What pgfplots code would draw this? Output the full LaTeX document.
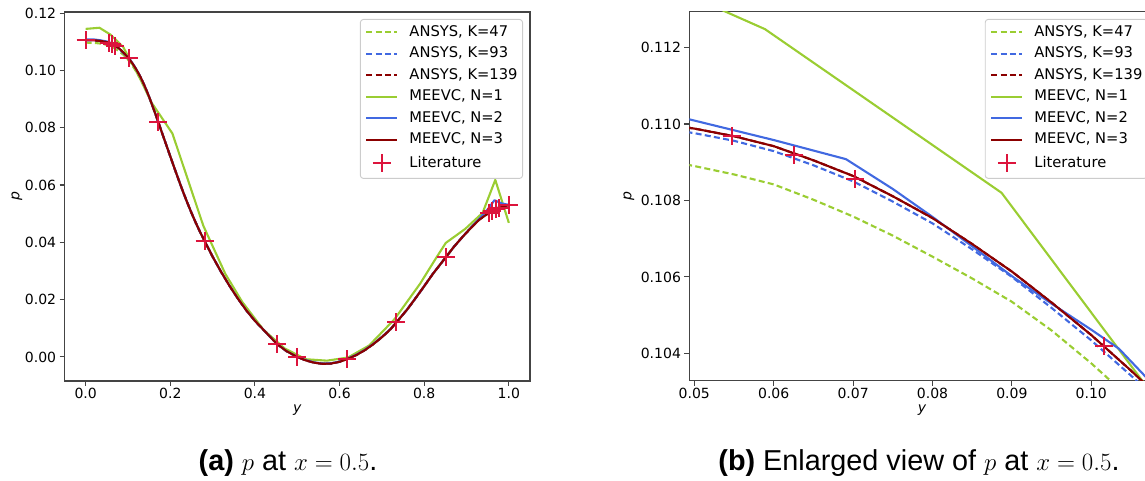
\documentclass[border=0pt]{standalone}
\usepackage[no-math]{fontspec}
\setmainfont{DejaVu Sans}
\newfontfamily\capfont{Liberation Sans}
\usepackage{pgfplots}
\usepackage{pgfplotstable}
\pgfplotsset{compat=1.18}
\definecolor{cgreen}{HTML}{9ACD32}
\definecolor{cblue}{HTML}{4169E1}
\definecolor{cred}{HTML}{8B0000}
\definecolor{ccrim}{HTML}{DC143C}
\definecolor{spine}{HTML}{444444}

% MEEVC N=3 (and ANSYS K=139)
\pgfplotstableread{
y p
0.000 0.11060
0.010 0.11058
0.020 0.11052
0.030 0.11040
0.040 0.11018
0.050 0.10988
0.055 0.10968
0.060 0.10942
0.065 0.10905
0.070 0.10864
0.075 0.10811
0.080 0.10754
0.085 0.10686
0.090 0.10614
0.095 0.10533
0.100 0.10448
0.105 0.10355
0.110 0.10258
0.120 0.10028
0.130 0.09758
0.140 0.09438
0.150 0.09078
0.160 0.08678
0.1719 0.0819
0.180 0.0784
0.190 0.0742
0.200 0.0700
0.210 0.0658
0.220 0.0617
0.230 0.0577
0.240 0.0539
0.250 0.0503
0.260 0.0469
0.270 0.0437
0.2813 0.0404
0.300 0.0350
0.320 0.0297
0.340 0.0248
0.360 0.0203
0.380 0.0162
0.400 0.0126
0.420 0.0095
0.440 0.0064
0.4531 0.0044
0.475 0.0020
0.500 0.0000
0.520 -0.0012
0.540 -0.0020
0.560 -0.0024
0.580 -0.0023
0.600 -0.0017
0.6172 -0.0008
0.640 0.0007
0.660 0.0024
0.680 0.0045
0.700 0.0069
0.720 0.0096
0.7344 0.0121
0.760 0.0166
0.780 0.0206
0.800 0.0247
0.820 0.0289
0.8516 0.0349
0.870 0.0384
0.890 0.0418
0.910 0.0450
0.930 0.0479
0.9531 0.0503
0.9609 0.0509
0.9688 0.0515
0.9766 0.0520
0.990 0.0527
1.000 0.0530
}\mainT

% ANSYS K=93
\pgfplotstableread{
y p
0.000 0.11052
0.010 0.11050
0.020 0.11043
0.030 0.11030
0.040 0.11007
0.050 0.10976
0.055 0.10956
0.060 0.10929
0.065 0.10892
0.070 0.10850
0.075 0.10797
0.080 0.10740
0.085 0.10672
0.090 0.10600
0.095 0.10519
0.100 0.10434
0.105 0.10342
0.110 0.10246
0.120 0.10020
0.130 0.09752
0.140 0.09434
0.150 0.09075
0.160 0.08676
0.1719 0.0819
0.180 0.0784
0.190 0.0742
0.200 0.0700
0.210 0.0658
0.220 0.0617
0.230 0.0577
0.240 0.0539
0.250 0.0503
0.260 0.0469
0.270 0.0437
0.2813 0.0404
0.300 0.0350
0.320 0.0297
0.340 0.0248
0.360 0.0203
0.380 0.0162
0.400 0.0126
0.420 0.0095
0.440 0.0064
0.4531 0.0044
0.475 0.0020
0.500 0.0000
0.520 -0.0012
0.540 -0.0020
0.560 -0.0024
0.580 -0.0023
0.600 -0.0017
0.6172 -0.0008
0.640 0.0007
0.660 0.0024
0.680 0.0045
0.700 0.0069
0.720 0.0096
0.7344 0.0121
0.760 0.0166
0.780 0.0206
0.800 0.0247
0.820 0.0289
0.8516 0.0349
0.870 0.0384
0.890 0.0418
0.910 0.0450
0.930 0.0480
0.9531 0.0505
0.9609 0.0512
0.9688 0.0518
0.9766 0.0522
0.990 0.0527
1.000 0.0530
}\kninety

% ANSYS K=47
\pgfplotstableread{
y p
0.000 0.10970
0.020 0.10962
0.040 0.10930
0.050 0.10890
0.055 0.10868
0.060 0.10842
0.065 0.10802
0.070 0.10758
0.075 0.10708
0.080 0.10653
0.085 0.10596
0.090 0.10535
0.095 0.10460
0.100 0.10374
0.105 0.10280
0.110 0.10180
0.120 0.09950
0.130 0.09700
0.140 0.09400
0.150 0.09060
0.160 0.08670
0.1719 0.0819
0.180 0.0784
0.190 0.0742
0.200 0.0700
0.210 0.0658
0.220 0.0617
0.230 0.0577
0.240 0.0539
0.250 0.0503
0.260 0.0469
0.270 0.0437
0.2813 0.0404
0.300 0.0350
0.320 0.0297
0.340 0.0248
0.360 0.0203
0.380 0.0162
0.400 0.0126
0.420 0.0095
0.440 0.0064
0.4531 0.0044
0.475 0.0020
0.500 0.0000
0.520 -0.0011
0.540 -0.0019
0.560 -0.0023
0.580 -0.0022
0.600 -0.0016
0.6172 -0.0008
0.640 0.0007
0.660 0.0024
0.680 0.0045
0.700 0.0069
0.720 0.0096
0.7344 0.0121
0.760 0.0166
0.780 0.0206
0.800 0.0247
0.820 0.0289
0.8516 0.0349
0.870 0.0384
0.890 0.0418
0.910 0.0450
0.930 0.0480
0.9531 0.0505
0.9609 0.0512
0.9688 0.0518
0.9766 0.0522
0.990 0.0527
1.000 0.0530
}\kfortyseven

% MEEVC N=1
\pgfplotstableread{
y p
0.0000 0.1145
0.0326 0.1149
0.0589 0.11248
0.0887 0.1082
0.1280 0.0973
0.1560 0.0887
0.2050 0.0780
0.2780 0.0458
0.3300 0.0290
0.3700 0.0192
0.4200 0.0095
0.4700 0.0030
0.5200 -0.0008
0.5700 -0.0013
0.6200 -0.0002
0.6700 0.0040
0.7300 0.0132
0.7900 0.0255
0.8280 0.0345
0.8510 0.0398
0.8970 0.0447
0.9380 0.0503
0.9680 0.0618
1.0000 0.0468
}\nOne

% MEEVC N=2
\pgfplotstableread{
y p
0.000 0.11080
0.010 0.11082
0.020 0.11080
0.035 0.11052
0.0494 0.11012
0.060 0.10958
0.0691 0.10908
0.075 0.10830
0.080 0.10757
0.085 0.10680
0.090 0.10602
0.095 0.10530
0.100 0.10462
0.1035 0.10412
0.110 0.10270
0.120 0.10030
0.130 0.09758
0.140 0.09438
0.150 0.09078
0.160 0.08678
0.1719 0.0819
0.180 0.0784
0.190 0.0742
0.200 0.0700
0.210 0.0658
0.220 0.0617
0.230 0.0577
0.240 0.0539
0.250 0.0503
0.260 0.0469
0.270 0.0437
0.2813 0.0404
0.300 0.0350
0.320 0.0297
0.340 0.0248
0.360 0.0203
0.380 0.0162
0.400 0.0126
0.420 0.0095
0.440 0.0064
0.4531 0.0044
0.475 0.0020
0.500 0.0000
0.520 -0.0011
0.540 -0.0019
0.560 -0.0023
0.580 -0.0022
0.600 -0.0016
0.6172 -0.0007
0.640 0.0008
0.660 0.0025
0.680 0.0046
0.700 0.0070
0.720 0.0097
0.7344 0.0121
0.760 0.0166
0.780 0.0206
0.800 0.0247
0.820 0.0289
0.8516 0.0349
0.870 0.0384
0.890 0.0418
0.910 0.0451
0.930 0.0482
0.950 0.0515
0.966 0.0547
0.985 0.0535
1.000 0.0531
}\nTwo

% Literature (Botella & Peyret)
\pgfplotstableread{
y p
1.0000 0.052987
0.9766 0.052009
0.9688 0.051514
0.9609 0.050949
0.9531 0.050329
0.8516 0.034910
0.7344 0.012122
0.6172 -0.000827
0.5000 0.000000
0.4531 0.004434
0.2813 0.040377
0.1719 0.081925
0.1016 0.104187
0.0703 0.108566
0.0625 0.109200
0.0547 0.109689
0.0000 0.110591
}\litT

\pgfplotsset{
  myaxis/.style={
    scale only axis,
    anchor=south west,
    width=465.5pt, height=369pt,
    axis line style={spine, line width=1.1pt},
    tick style={spine, line width=1.1pt},
    tick align=outside,
    major tick length=4.9pt,
    xtick pos=bottom, ytick pos=left,
    scaled ticks=false,
    /pgf/number format/assume math mode=true,
    /pgf/number format/fixed,
    /pgf/number format/fixed zerofill,
    ticklabel style={font=\fontsize{14}{16}\selectfont, text=black},
    xticklabel style={inner sep=0pt, yshift=-2pt},
    label style={font=\fontsize{14}{16}\selectfont},
    every axis plot/.append style={line width=2.1pt, line join=round},
    legend cell align=left,
    legend image code/.code={\draw[mark repeat=2,mark phase=2,##1] plot coordinates {(0pt,0pt) (15.5pt,0pt) (31pt,0pt)};},
    legend style={at={(1,1)}, anchor=north east, xshift=-7pt, yshift=-7pt,
      draw=black!20, line width=0.9pt, rounded corners=3pt,
      fill=white, fill opacity=0.8, text opacity=1,
      font=\fontsize{14.7}{16}\selectfont,
      inner xsep=5pt, inner ysep=6pt, row sep=7.8pt, column sep=11pt,
      nodes={inner sep=0pt, text height=10.7pt, text depth=3pt}},
  },
  litleg/.style={legend image code/.code={\path (0pt,0pt) (31pt,0pt); \draw[##1] plot coordinates {(15.5pt,0pt)};}},
  litstyle/.style={ccrim, only marks, mark=+, mark size=9pt, line width=2pt,
    mark options={solid, ccrim, line width=2pt}, litleg},
  dashedK/.style={dash pattern=on 6pt off 3.3pt},
}

\begin{document}
\begin{tikzpicture}
\useasboundingbox (0pt,0pt) rectangle (1145pt,481pt);
\clip (0pt,0pt) rectangle (1145pt,481pt);

% ---------- (a) ----------
\begin{axis}[myaxis, at={(64.5pt,100pt)},
  xmin=-0.05, xmax=1.05, ymin=-0.0084, ymax=0.1204,
  xtick={0,0.2,0.4,0.6,0.8,1.0},
  ytick={0,0.02,0.04,0.06,0.08,0.10,0.12},
  xticklabel style={/pgf/number format/precision=1},
  yticklabel style={/pgf/number format/precision=2},
  xlabel={\textit{y}}, ylabel={\textit{p}},
  xlabel style={at={(axis description cs:0.5,0)}, anchor=center, yshift=-29pt, inner sep=0pt},
  ylabel style={at={(axis description cs:-0.102,0.5)}, anchor=center, inner sep=0pt},
]
\addplot[cgreen, dashedK, mark=none] table {\kfortyseven};
\addlegendentry{ANSYS, K=47}
\addplot[cblue, dashedK, mark=none] table {\kninety};
\addlegendentry{ANSYS, K=93}
\addplot[cred, dashedK, mark=none] table {\mainT};
\addlegendentry{ANSYS, K=139}
\addplot[cgreen, mark=none] table {\nOne};
\addlegendentry{MEEVC, N=1}
\addplot[cblue, mark=none] table {\nTwo};
\addlegendentry{MEEVC, N=2}
\addplot[cred, mark=none] table {\mainT};
\addlegendentry{MEEVC, N=3}
\addplot[litstyle] table {\litT};
\addlegendentry{Literature}
\end{axis}

% ---------- (b) ----------
\begin{axis}[myaxis, at={(689.3pt,100pt)},
  xmin=0.04937, xmax=0.1080, ymin=0.10328, ymax=0.11293,
  xtick={0.05,0.06,0.07,0.08,0.09,0.10},
  ytick={0.104,0.106,0.108,0.110,0.112},
  xticklabel style={/pgf/number format/precision=2},
  yticklabel style={/pgf/number format/precision=3},
  xlabel={\textit{y}}, ylabel={\textit{p}},
  xlabel style={at={(axis description cs:0.5,0)}, anchor=center, yshift=-29pt, inner sep=0pt},
  ylabel style={at={(axis description cs:-0.130,0.5)}, anchor=center, inner sep=0pt},
]
\addplot[cgreen, dashedK, mark=none] table {\kfortyseven};
\addlegendentry{ANSYS, K=47}
\addplot[cblue, dashedK, mark=none] table {\kninety};
\addlegendentry{ANSYS, K=93}
\addplot[cred, dashedK, mark=none] table {\mainT};
\addlegendentry{ANSYS, K=139}
\addplot[cgreen, mark=none] table {\nOne};
\addlegendentry{MEEVC, N=1}
\addplot[cblue, mark=none] table {\nTwo};
\addlegendentry{MEEVC, N=2}
\addplot[cred, mark=none] table {\mainT};
\addlegendentry{MEEVC, N=3}
\addplot[litstyle] table {\litT};
\addlegendentry{Literature}
\end{axis}

\node[anchor=base, inner sep=0pt] at (288pt,10pt)
  {\capfont\fontsize{28.8}{33}\selectfont\textbf{(a)} $p$ at $x=0.5$.};
\node[anchor=base, inner sep=0pt] at (919pt,10pt)
  {\capfont\fontsize{28.8}{33}\selectfont\textbf{(b)} Enlarged view of $p$ at $x=0.5$.};
\end{tikzpicture}
\end{document}
